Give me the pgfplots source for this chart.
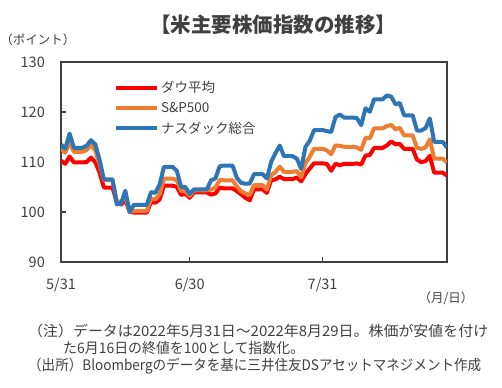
\documentclass[border=0pt]{standalone}
\usepackage{fontspec}
\setmainfont{Noto Sans CJK JP}
\usepackage{graphicx}
\usepackage{pgfplots}
\pgfplotsset{compat=1.18}
\definecolor{dj}{HTML}{FF0000}
\definecolor{sp}{HTML}{ED7D31}
\definecolor{nq}{HTML}{2E75B6}
\definecolor{ax}{HTML}{404040}
\definecolor{tx}{HTML}{404040}
\newcommand{\fs}[1]{\fontsize{#1}{#1}\selectfont}
\begin{document}
\begin{tikzpicture}
\path[use as bounding box] (-61bp,-126bp) rectangle (441bp,262bp);
\begin{axis}[
  scale only axis, width=386bp, height=200bp,
  xmin=0, xmax=90, ymin=90, ymax=130,
  xtick={0,30,61}, xticklabels={5/31,6/30,7/31},
  ytick={90,100,...,130},
  tick align=inside, major tick length=5bp, tick pos=left,
  axis line style={ax, line width=2.2bp},
  every tick/.style={ax, line width=1.5bp},
  ticklabel style={font=\fs{14.5bp}, text=tx},
  /pgf/number format/assume math mode=true,
  yticklabel style={anchor=east, inner sep=0pt, xshift=-16bp},
  xticklabel style={anchor=center, inner sep=0pt, yshift=-23bp},
  legend style={at={(rel axis cs:0.137,0.915)}, anchor=north west, draw=none, fill=none,
    inner sep=0pt, font=\fs{13.5bp}, text=tx, row sep=4bp},
  legend cell align=left,
  legend image code/.code={\draw[#1, line width=4bp] (0bp,0bp) -- (41bp,0bp);},
  every axis plot/.append style={line width=4bp, line join=round, mark=none},
]
\addplot[dj] coordinates {
(0,110.24)(1,109.64)(2,111.10)(3,109.93)(5,109.93)(6,109.99)(7,110.87)(8,109.97)(9,107.84)(10,104.90)
(12,104.90)(13,101.97)(14,101.46)(15,102.48)(16,100.00)(17,99.87)(20,99.87)(21,102.02)(22,101.86)(23,102.51)
(24,105.26)(26,105.26)(27,105.05)(28,103.41)(29,103.68)(30,102.84)(31,103.91)(34,103.91)(35,103.48)(36,103.71)
(37,104.87)(38,104.72)(40,104.72)(41,104.17)(42,103.52)(43,102.83)(44,102.35)(45,104.55)(47,104.55)(48,103.83)
(49,106.35)(50,106.51)(51,107.05)(52,106.59)(54,106.59)(55,106.89)(56,106.13)(57,107.59)(58,108.70)(59,109.75)
(61,109.75)(62,109.60)(63,108.25)(64,109.64)(65,109.36)(66,109.61)(68,109.61)(69,109.71)(70,109.51)(71,111.30)
(72,111.39)(73,112.81)(75,112.81)(76,113.32)(77,114.12)(78,113.54)(79,113.61)(80,112.63)(82,112.63)(83,110.48)
(84,109.97)(85,110.17)(86,111.24)(87,107.87)(89,107.87)(90,107.26)};
\addlegendentry{ダウ平均}
\addplot[sp] coordinates {
(0,112.69)(1,111.85)(2,113.91)(3,112.05)(5,112.05)(6,112.40)(7,113.47)(8,112.25)(9,109.57)(10,106.38)
(12,106.38)(13,102.26)(14,101.87)(15,103.36)(16,100.00)(17,100.22)(20,100.22)(21,102.67)(22,102.54)(23,103.52)
(24,106.68)(26,106.68)(27,106.36)(28,104.22)(29,104.15)(30,103.23)(31,104.32)(34,104.32)(35,104.49)(36,104.86)
(37,106.43)(38,106.34)(40,106.34)(41,105.12)(42,104.15)(43,103.68)(44,103.37)(45,105.36)(47,105.36)(48,104.47)
(49,107.36)(50,107.99)(51,109.06)(52,108.04)(54,108.04)(55,108.18)(56,106.93)(57,109.73)(58,111.06)(59,112.64)
(61,112.64)(62,112.32)(63,111.57)(64,113.32)(65,113.23)(66,113.05)(68,113.05)(69,112.91)(70,112.43)(71,114.82)
(72,114.74)(73,116.73)(75,116.73)(76,117.19)(77,117.41)(78,116.56)(79,116.83)(80,115.32)(82,115.32)(83,112.85)
(84,112.60)(85,112.93)(86,114.52)(87,110.66)(89,110.66)(90,109.92)};
\addlegendentry{S\&P500}
\addplot[nq] coordinates {
(0,113.48)(1,112.67)(2,115.69)(3,112.84)(5,112.84)(6,113.29)(7,114.36)(8,113.53)(9,110.41)(10,106.52)
(12,106.52)(13,101.53)(14,101.71)(15,104.26)(16,100.00)(17,101.43)(20,101.43)(21,103.98)(22,103.82)(23,105.51)
(24,109.03)(26,109.03)(27,108.25)(28,105.03)(29,105.00)(30,103.59)(31,104.53)(34,104.53)(35,106.35)(36,106.72)
(37,109.16)(38,109.29)(40,109.29)(41,106.82)(42,105.81)(43,105.65)(44,105.68)(45,107.57)(47,107.57)(48,106.71)
(49,110.02)(50,111.76)(51,113.28)(52,111.16)(54,111.16)(55,110.68)(56,108.61)(57,113.02)(58,114.24)(59,116.39)
(61,116.39)(62,116.18)(63,115.99)(64,118.99)(65,119.49)(66,118.89)(68,118.89)(69,118.77)(70,117.36)(71,120.75)
(72,120.04)(73,122.55)(75,122.55)(76,123.31)(77,123.07)(78,121.53)(79,121.79)(80,119.34)(82,119.34)(83,116.30)
(84,116.30)(85,116.77)(86,118.72)(87,114.05)(89,114.05)(90,112.88)};
\addlegendentry{ナスダック総合}
\end{axis}
\node[text=tx, font=\bfseries\fs{20.5bp}] at (212bp,237bp) {【米主要株価指数の推移】};
\node[text=tx, font=\fs{12.5bp}, inner sep=0pt] at (-23bp,222bp) {（ポイント）};
\node[text=tx, font=\fs{12.5bp}, inner sep=0pt] at (385bp,-36bp) {（月/日）};
\node[text=tx, font=\fs{14.5bp}, inner sep=0pt, anchor=west] at (-33bp,-69bp) {\resizebox{460bp}{\height}{（注）データは2022年5月31日～2022年8月29日。株価が安値を付け}};
\node[text=tx, font=\fs{14.5bp}, inner sep=0pt, anchor=west] at (2bp,-86bp) {\resizebox{241bp}{\height}{た6月16日の終値を100として指数化。}};
\node[text=tx, font=\fs{14.5bp}, inner sep=0pt, anchor=west] at (-33bp,-104bp) {\resizebox{453bp}{\height}{（出所）Bloombergのデータを基に三井住友DSアセットマネジメント作成}};
\end{tikzpicture}
\end{document}
